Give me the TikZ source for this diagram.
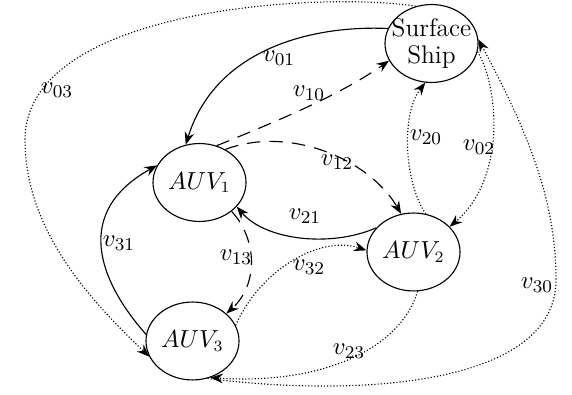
\documentclass[tikz,border=0pt]{standalone}
\usetikzlibrary{shapes.geometric,arrows.meta}
\begin{document}
\begin{tikzpicture}[x=0.444pt,y=-0.444pt,
  agent/.style={draw,ellipse,line width=0.5pt,inner sep=0pt,minimum width=41.3pt,minimum height=34.6pt,align=center,font=\fontsize{10.5}{12}\selectfont},
  tip/.style={-{Stealth[length=5.6pt,width=4.3pt,inset=1.9pt]}},
  solidlink/.style={tip,line width=0.5pt},
  dashlink/.style={tip,line width=0.5pt,dash pattern=on 6pt off 4pt},
  dotlink/.style={tip,line width=0.5pt,dash pattern=on 0.5pt off 0.9pt},
  lbl/.style={inner sep=0pt,font=\fontsize{10.8}{13}\selectfont}]
\useasboundingbox (0,0) rectangle (572,395);
\node[agent] (ship) at (431.5,43.5) {};
\node[inner sep=0pt,align=center,font=\fontsize{11.3}{12.2}\selectfont] (shiptext) at (ship.center) {Surface\\Ship};
\node[agent] (a1) at (199.5,182.5) {$AUV_1$};
\node[agent] (a2) at (413.5,252) {$AUV_2$};
\node[agent] (a3) at (192.5,341) {$AUV_3$};
% solid
\draw[solidlink] (ship.161) .. controls (310,25) and (215,50) .. (a1.110);
\draw[solidlink] (a2.147) .. controls (330,248) and (265,240) .. (a1.-33);
\draw[solidlink] (a3.172) .. controls (98,280) and (73,212) .. (a1.158);
% dashed
\draw[dashlink] (a1.65) .. controls (280,120) and (340,95) .. (ship.-158);
\draw[dashlink] (a1.52) .. controls (290,125) and (370,160) .. (a2.108);
\draw[dashlink] (a1.-42) .. controls (258,240) and (258,285) .. (a3.39);
% dotted
\draw[dotlink] (a2.72) .. controls (405,185) and (400,115) .. (ship.-99);
\draw[dotlink] (ship.-10) .. controls (500,90) and (505,180) .. (a2.35);
\draw[dotlink] (a3.20) .. controls (260,270) and (320,235) .. (a2.178);
\draw[dotlink] (a2.-84) .. controls (400,350) and (320,385) .. (a3.-64);
\draw[dotlink] (a3.-68) .. controls (360,398) and (556,385) .. (556,280)
  .. controls (556,200) and (528,132) .. (ship.5);
\draw[dotlink] (ship.113) .. controls (330,-8) and (25,5) .. (25,140)
  .. controls (25,230) and (90,300) .. (a3.200);
% labels
\node[lbl] (l01) at (279,58) {$v_{01}$};
\node[lbl] (l03) at (57,90) {$v_{03}$};
\node[lbl] (l10) at (309,93) {$v_{10}$};
\node[lbl] (l12) at (337,162) {$v_{12}$};
\node[lbl] (l20) at (426,137) {$v_{20}$};
\node[lbl] (l02) at (479,147) {$v_{02}$};
\node[lbl] (l21) at (305,216) {$v_{21}$};
\node[lbl] (l32) at (309,267) {$v_{32}$};
\node[lbl] (l30) at (537,285) {$v_{30}$};
\node[lbl] (l23) at (349,351) {$v_{23}$};
\node[lbl] (l13) at (236,257) {$v_{13}$};
\node[lbl] (l31) at (119,243) {$v_{31}$};
\end{tikzpicture}
\end{document}
